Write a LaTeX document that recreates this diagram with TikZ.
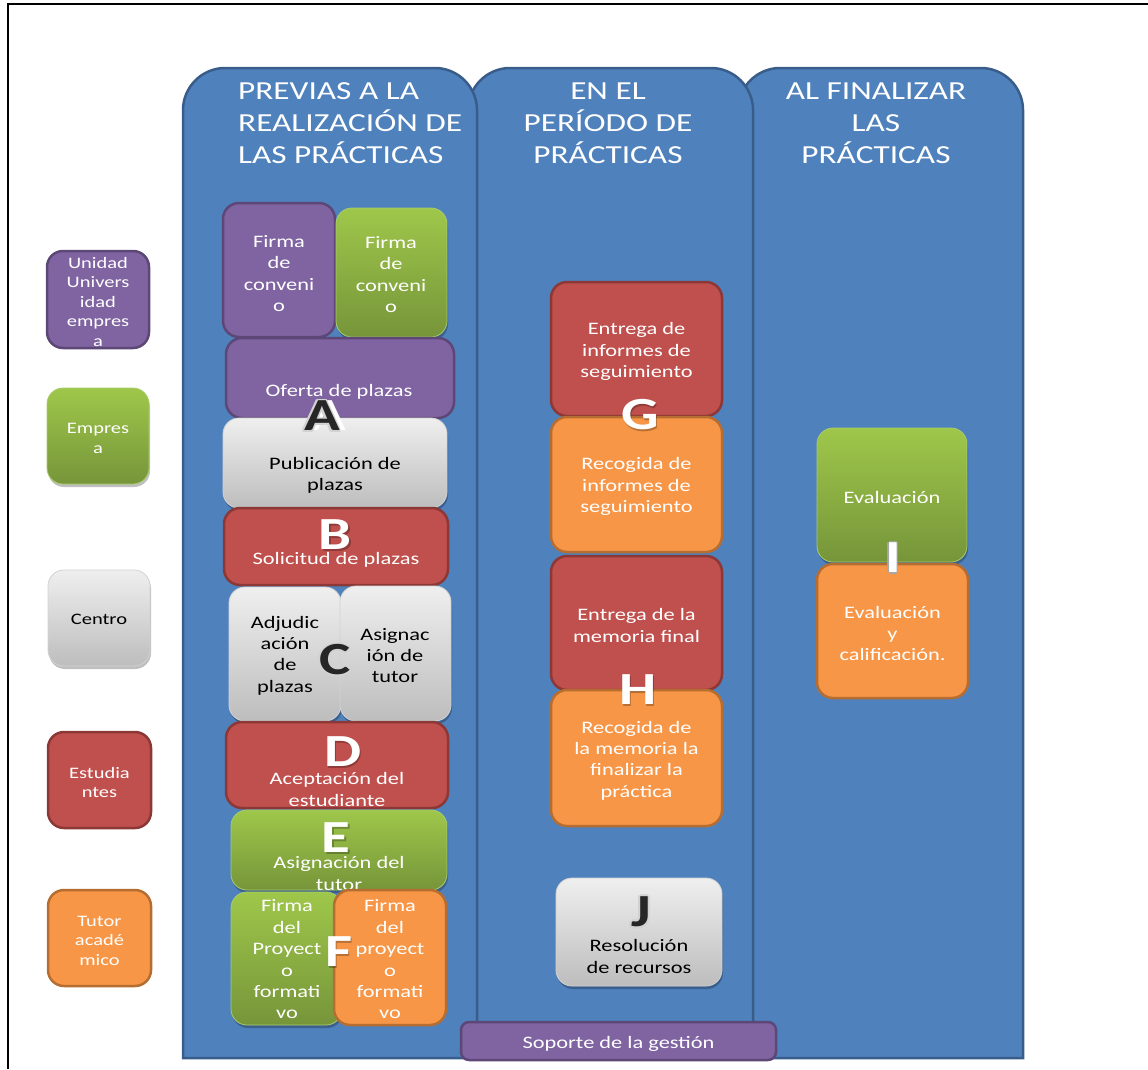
\documentclass[tikz,border=0pt]{standalone}
\usepackage{fontspec}
\setmainfont{Carlito}[FakeStretch=1.28]
\usetikzlibrary{shadows}
\definecolor{colblue}{HTML}{4F81BD}
\definecolor{colborder}{HTML}{385D8A}
\definecolor{pfill}{HTML}{8064A2}
\definecolor{pdraw}{HTML}{5C4776}
\definecolor{rfill}{HTML}{C0504D}
\definecolor{rdraw}{HTML}{8C3836}
\definecolor{ofill}{HTML}{F79646}
\definecolor{odraw}{HTML}{B66D31}
\definecolor{gtop}{HTML}{9FC74A}
\definecolor{gbot}{HTML}{76953A}
\definecolor{gdraw}{HTML}{A9CB6B}
\definecolor{wtop}{HTML}{EFEFEF}
\definecolor{wbot}{HTML}{BDBDBD}
\definecolor{wdraw}{HTML}{D2D2D2}
\tikzset{
  colstyle/.style={fill=colblue, draw=colborder, line width=2.5pt},
  box/.style={rounded corners=16pt, inner sep=0pt},
  softshadow/.style={drop shadow={shadow xshift=1pt, shadow yshift=-3pt, opacity=0.25, fill=black}},
  pbox/.style={box, fill=pfill, draw=pdraw, line width=2.5pt},
  rbox/.style={box, fill=rfill, draw=rdraw, line width=2.5pt},
  obox/.style={box, fill=ofill, draw=odraw, line width=2.5pt},
  gbox/.style={box, top color=gtop, bottom color=gbot, draw=gdraw, line width=0.8pt, softshadow},
  wbox/.style={box, top color=wtop, bottom color=wbot, draw=wdraw, line width=0.8pt, softshadow},
  txt/.style={align=center, text=white, font=\fontsize{17.5}{21.4}\selectfont, inner sep=0pt, yshift=-1.5pt},
  dtxt/.style={txt, text=black},
  ltxt/.style={txt, font=\fontsize{16}{19.5}\selectfont},
  ldtxt/.style={ltxt, text=black},
  hdr/.style={text=white, font=\fontsize{26}{32}\selectfont, inner sep=0pt},
  bigletter/.style={font=\fontsize{46}{46}\selectfont\bfseries, inner sep=0pt},
}
\newcommand\bx[6]{\node[#2, minimum width={(#5-#3)*1pt}, minimum height={(#6-#4)*1pt}] (#1) at ({(#3+#5)/2},{(#4+#6)/2}) {};}
\newcommand\darkletter[4]{%
  \foreach \dx/\dy in {-1.8/0,1.8/0,0/-1.8,0/1.8,-1.3/-1.3,1.3/1.3,-1.3/1.3,1.3/-1.3}{%
    \node[bigletter, text=gray!35] at ({#2+\dx},{#3+\dy}) {#4};}
  \node[bigletter, text=black!85] (#1) at (#2,#3) {#4};}
\newcommand\whiteletter[4]{%
  \node[bigletter, text=black, opacity=0.25] at ({#2+1.5},{#3+1.5}) {#4};
  \node[bigletter, text=white] (#1) at (#2,#3) {#4};}
\begin{document}
\begin{tikzpicture}[x=1pt, y=-1pt]
\useasboundingbox (0,0) rectangle (1148,1069);
% outer frame
\draw[line width=2.5pt] (8,1069) -- (8,4) -- (1148,4);
% columns (right to left so the left one lies on top)
\draw[colstyle] (738,1058) -- (738,110) .. controls (738,87) and (757,68) .. (780,68) -- (981,68) .. controls (1004,68) and (1023,87) .. (1023,110) -- (1023,1058) -- cycle;
\draw[colstyle] (468,1058) -- (468,110) .. controls (468,87) and (487,68) .. (510,68) -- (711,68) .. controls (734,68) and (753,87) .. (753,110) -- (753,1058) -- cycle;
\draw[colstyle] (183,1058) -- (183,110) .. controls (183,87) and (202,68) .. (225,68) -- (435,68) .. controls (458,68) and (477,87) .. (477,110) -- (477,1058) -- cycle;
% headers
\node[hdr, align=left, anchor=west] (h1) at (238,123) {PREVIAS A LA\\REALIZACIÓN DE\\LAS PRÁCTICAS};
\node[hdr, align=center] (h2) at (608,123) {EN EL\\PERÍODO DE\\PRÁCTICAS};
\node[hdr, align=center] (h3) at (876,123) {AL FINALIZAR\\LAS\\PRÁCTICAS};
% legend
\bx{lu}{pbox}{47}{251}{149}{348}
\node[ltxt] (lut) at (98,300) {Unidad\\Univers\\idad\\empres\\a};
\bx{le}{gbox}{47}{388}{149}{484}
\node[ltxt] (let) at (98,437) {Empres\\a};
\bx{lc}{wbox}{48}{570}{150}{666}
\node[ldtxt] (lct) at (99,618) {Centro};
\bx{ls}{rbox}{48}{732}{151}{828}
\node[ltxt] (lst) at (99.5,781) {Estudia\\ntes};
\bx{lt}{obox}{48}{890}{151}{986}
\node[ltxt] (ltt) at (99.5,939) {Tutor\\acadé\\mico};
% column 1
\bx{fc1}{pbox}{223}{203}{335}{337}
\node[txt] (fc1t) at (279,272) {Firma\\de\\conveni\\o};
\bx{fc2}{gbox}{336}{208}{447}{337}
\node[txt] (fc2t) at (391,273) {Firma\\de\\conveni\\o};
\bx{of}{pbox}{226}{338}{454}{418}
\node[txt] (oft) at (339,390) {Oferta de plazas};
\bx{pu}{wbox}{223}{418}{447}{508}
\node[dtxt] (put) at (335,474) {Publicación de\\plazas};
\bx{so}{rbox}{224}{508}{448}{585}
\node[txt] (sot) at (336,558) {Solicitud de plazas};
\bx{ad}{wbox}{229}{587}{341}{721}
\node[dtxt] (adt) at (285,654) {Adjudic\\ación\\de\\plazas};
\bx{as}{wbox}{340}{586}{451}{721}
\node[dtxt] (ast) at (395,654) {Asignac\\ión de\\tutor};
\bx{ac}{rbox}{226}{722}{448}{808}
\node[txt] (act) at (337,788) {Aceptación del\\estudiante};
\bx{at}{gbox}{231}{810}{447}{890}
\node[txt] (att) at (339,872) {Asignación del\\tutor};
\bx{fp1}{gbox}{231}{892}{342}{1025}
\node[txt] (fp1t) at (287,958) {Firma\\del\\Proyect\\o\\formati\\vo};
\bx{fp2}{obox}{334}{890}{446}{1025}
\node[txt] (fp2t) at (390,958) {Firma\\del\\proyect\\o\\formati\\vo};
% column 2
\bx{ei}{rbox}{551}{282}{722}{416}
\node[txt] (eit) at (636.5,350) {Entrega de\\informes de\\seguimiento};
\bx{ri}{obox}{551}{417}{722}{552}
\node[txt] (rit) at (636.5,485) {Recogida de\\informes de\\seguimiento};
\bx{em}{rbox}{551}{556}{722}{690}
\node[txt] (emt) at (636.5,624) {Entrega de la\\memoria final};
\bx{rm}{obox}{551}{690}{722}{826}
\node[txt] (rmt) at (636.5,759) {Recogida de\\la memoria la\\finalizar la\\práctica};
\bx{re}{wbox}{556}{878}{722}{986}
\node[dtxt] (ret) at (639,955) {Resolución\\de recursos};
% column 3
\bx{ev}{gbox}{817}{428}{967}{562}
\node[txt] (evt) at (892,496) {Evaluación};
\bx{ec}{obox}{817}{564}{968}{698}
\node[txt] (ect) at (892.5,632) {Evaluación\\y\\calificación.};
% support bar
\node[pbox, rounded corners=8pt, minimum width=315pt, minimum height=38pt] (sp) at (618.5,1041) {};
\node[txt] (spt) at (618.5,1042) {Soporte de la gestión};
% letters
\node[bigletter, text=white] at (328,416) {A};
\darkletter{LA}{322}{416}{A}
\whiteletter{LB}{335}{535}{B}
\darkletter{LC}{335}{660}{C}
\whiteletter{LD}{343}{752}{D}
\whiteletter{LE}{336}{838}{E}
\whiteletter{LF}{339}{952}{F}
\whiteletter{LG}{640}{415}{G}
\whiteletter{LH}{638}{690}{H}
\foreach \dx/\dy in {-1.5/0,1.5/0,0/-1.5,0/1.5}{\node[bigletter, text=gray!70] at ({893+\dx},{558+\dy}) {I};}
\node[bigletter, text=white] (LI) at (893,558) {I};
\darkletter{LJ}{641}{912}{J}
\end{tikzpicture}
\end{document}
